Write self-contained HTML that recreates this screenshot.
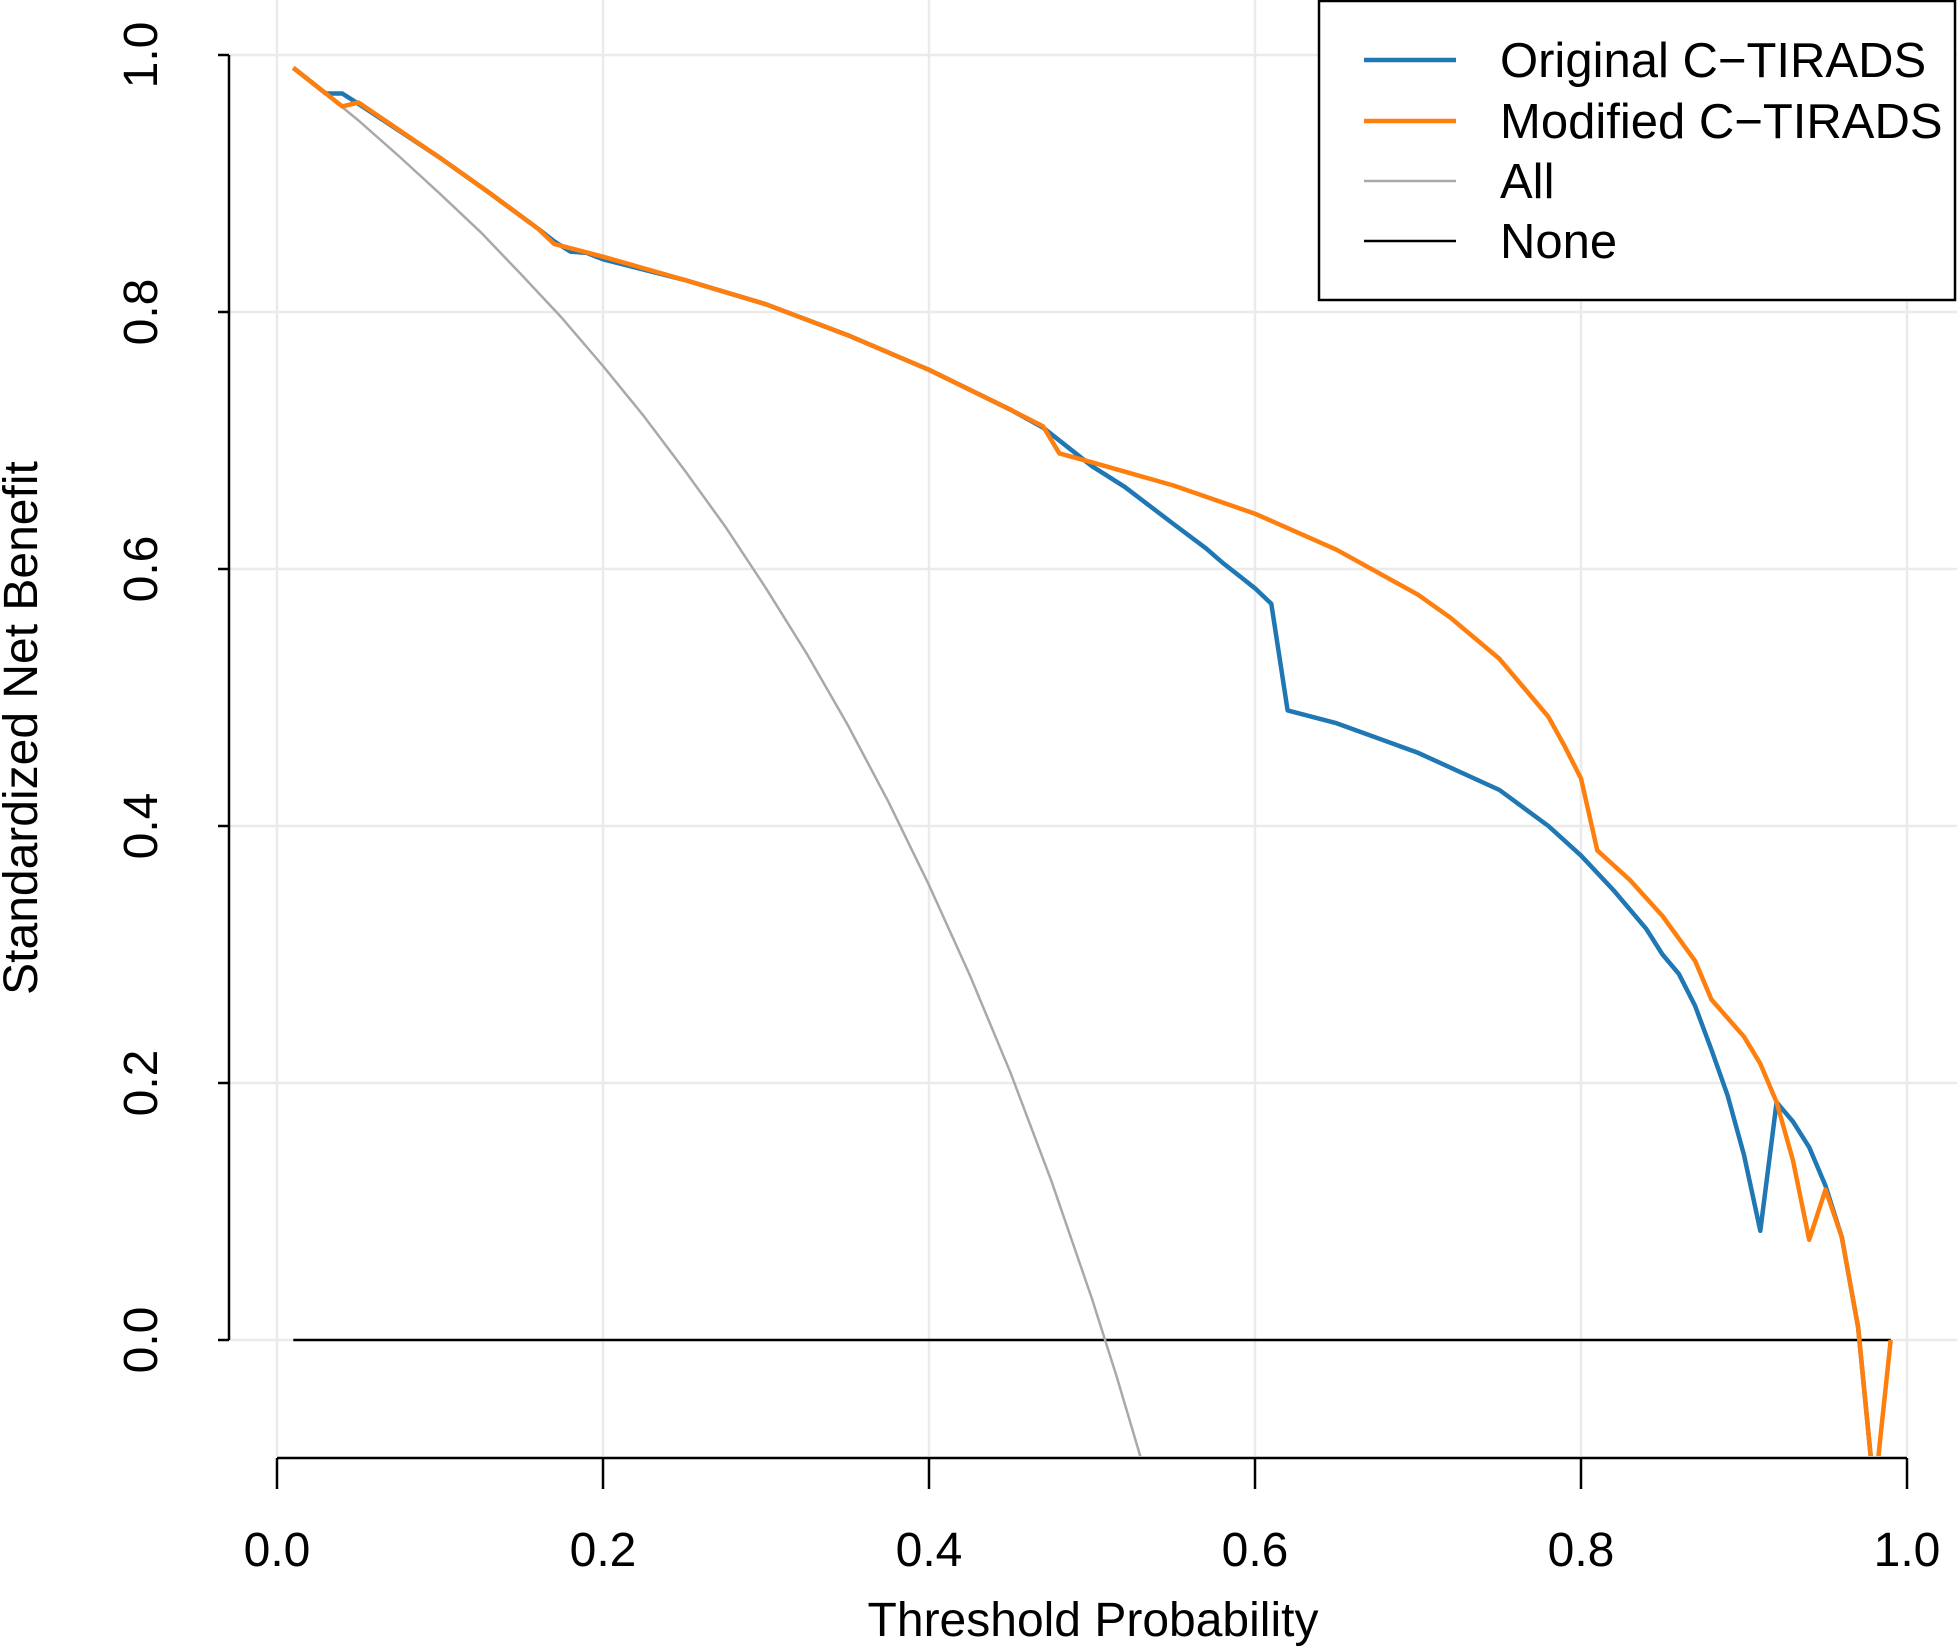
<!DOCTYPE html>
<html><head><meta charset="utf-8"><style>
html,body{margin:0;padding:0;background:#fff}
svg{display:block;font-family:"Liberation Sans",Arial,sans-serif}
</style></head><body>
<svg id="chart" width="1957" height="1649" viewBox="0 0 1957 1649" xmlns="http://www.w3.org/2000/svg">
<defs><clipPath id="plotclip"><rect x="229" y="0" width="1728" height="1456"/></clipPath></defs>
<g id="grid"></g>
<g id="series" clip-path="url(#plotclip)"></g>
<g id="axes"></g>
<text x="1093" y="1636" font-size="48" text-anchor="middle">Threshold Probability</text>
<text transform="translate(37,728) rotate(-90)" font-size="48" text-anchor="middle">Standardized Net Benefit</text>
<g>
<rect x="1319" y="1" width="636" height="299" fill="#fff" stroke="#000" stroke-width="2.5"/>
<g><line x1="1364" x2="1456" y1="60" y2="60" stroke="#1f77b4" stroke-width="4.5"/><text x="1500" y="77" font-size="49">Original C−TIRADS</text></g>
<g><line x1="1364" x2="1456" y1="121" y2="121" stroke="#ff7f0e" stroke-width="4.5"/><text x="1500" y="138" font-size="49">Modified C−TIRADS</text></g>
<g><line x1="1364" x2="1456" y1="181" y2="181" stroke="#a9a9a9" stroke-width="2.5"/><text x="1500" y="198" font-size="49">All</text></g>
<g><line x1="1364" x2="1456" y1="241" y2="241" stroke="#000" stroke-width="2.5"/><text x="1500" y="258" font-size="49">None</text></g>
</g>
</svg>
<script>
const xTicks = [0.0, 0.2, 0.4, 0.6, 0.8, 1.0];
const xTickLabels = ["0.0", "0.2", "0.4", "0.6", "0.8", "1.0"];
const yTicks = [0.0, 0.2, 0.4, 0.6, 0.8, 1.0];
const yTickLabels = ["0.0", "0.2", "0.4", "0.6", "0.8", "1.0"];
const origT = [0.01,0.03,0.04,0.05,0.10,0.13,0.16,0.17,0.18,0.19,0.20,0.25,0.30,0.35,0.40,0.45,0.47,0.50,0.52,0.55,0.57,0.58,0.59,0.60,0.61,0.62,0.65,0.70,0.75,0.78,0.80,0.82,0.84,0.85,0.86,0.87,0.88,0.89,0.90,0.91,0.92,0.93,0.94,0.95,0.96,0.97,0.98];
const origNB = [0.99,0.97,0.97,0.962,0.92,0.893,0.865,0.855,0.847,0.846,0.841,0.825,0.806,0.782,0.755,0.724,0.71,0.68,0.664,0.635,0.616,0.605,0.595,0.585,0.573,0.49,0.48,0.457,0.428,0.40,0.377,0.35,0.32,0.30,0.285,0.26,0.226,0.19,0.144,0.085,0.185,0.17,0.15,0.12,0.08,0.01,-0.12];
const modT = [0.01,0.04,0.05,0.10,0.13,0.16,0.17,0.20,0.25,0.30,0.35,0.40,0.45,0.47,0.48,0.50,0.55,0.60,0.65,0.70,0.72,0.75,0.77,0.78,0.79,0.80,0.81,0.83,0.85,0.87,0.88,0.90,0.91,0.92,0.93,0.94,0.95,0.96,0.97,0.98,0.99];
const modNB = [0.99,0.96,0.963,0.92,0.893,0.865,0.853,0.843,0.825,0.806,0.782,0.755,0.724,0.711,0.69,0.683,0.665,0.643,0.615,0.58,0.562,0.53,0.50,0.485,0.462,0.437,0.381,0.358,0.33,0.295,0.265,0.236,0.215,0.185,0.14,0.078,0.117,0.08,0.01,-0.12,0.0];
const allT = [0.01,0.025,0.05,0.075,0.10,0.125,0.15,0.175,0.20,0.225,0.25,0.275,0.30,0.325,0.35,0.375,0.40,0.425,0.45,0.475,0.50,0.515,0.53];
const allNB = [0.990,0.975,0.949,0.921,0.892,0.862,0.829,0.795,0.758,0.719,0.677,0.633,0.585,0.534,0.479,0.419,0.354,0.284,0.208,0.124,0.032,-0.028,-0.092];
const noneT = [0.01,0.99];
const noneNB = [0,0];

const NS = "http://www.w3.org/2000/svg";
function sx(v){ return 277 + v*1630; }
function sy(v){ return 1340 - v*1285; }
function mk(tag, attrs, parent){
  const e = document.createElementNS(NS, tag);
  for (const k in attrs) e.setAttribute(k, attrs[k]);
  parent.appendChild(e);
  return e;
}
const grid = document.getElementById('grid');
const axes = document.getElementById('axes');
const series = document.getElementById('series');
xTicks.forEach(function(t){
  const l = mk('line', {x1:sx(t), x2:sx(t), y1:0, y2:1456, stroke:'#ebebeb', 'stroke-width':2.5}, grid);
  
  
});
yTicks.forEach(function(t){
  const l = mk('line', {x1:229, x2:1957, y1:sy(t), y2:sy(t), stroke:'#ebebeb', 'stroke-width':2.5}, grid);
  
  
});
function path(ts, vs, color, w, name){
  let d = '';
  ts.forEach(function(t,i){ d += (i?'L':'M') + sx(t).toFixed(1) + ',' + sy(vs[i]).toFixed(1); });
  const p = mk('path', {d:d, fill:'none', stroke:color, 'stroke-width':w, 'stroke-linejoin':'round'}, series);
  
  
}
path(noneT, noneNB, '#000', 2.5, 'none-line');
path(allT, allNB, '#a9a9a9', 2.5, 'all-line');
path(origT, origNB, '#1f77b4', 4.5, 'original-c-tirads-line');
path(modT, modNB, '#ff7f0e', 4.5, 'modified-c-tirads-line');

const ya = mk('line', {x1:229, x2:229, y1:sy(1), y2:sy(0), stroke:'#000', 'stroke-width':2.5}, axes);


yTicks.forEach(function(t,i){
  const l = mk('line', {x1:218, x2:229, y1:sy(t), y2:sy(t), stroke:'#000', 'stroke-width':2.5}, axes);
  
  
  const tx = mk('text', {transform:'translate(157,'+sy(t)+') rotate(-90)', 'font-size':48, 'text-anchor':'middle'}, axes);
  tx.textContent = yTickLabels[i];
  
  
});
const xa = mk('line', {x1:sx(0), x2:sx(1), y1:1458, y2:1458, stroke:'#000', 'stroke-width':2.5}, axes);


xTicks.forEach(function(t,i){
  const l = mk('line', {x1:sx(t), x2:sx(t), y1:1458, y2:1489, stroke:'#000', 'stroke-width':2.5}, axes);
  
  
  const tx = mk('text', {x:sx(t), y:1566, 'font-size':48, 'text-anchor':'middle'}, axes);
  tx.textContent = xTickLabels[i];
  
  
});
</script>
</body></html>
